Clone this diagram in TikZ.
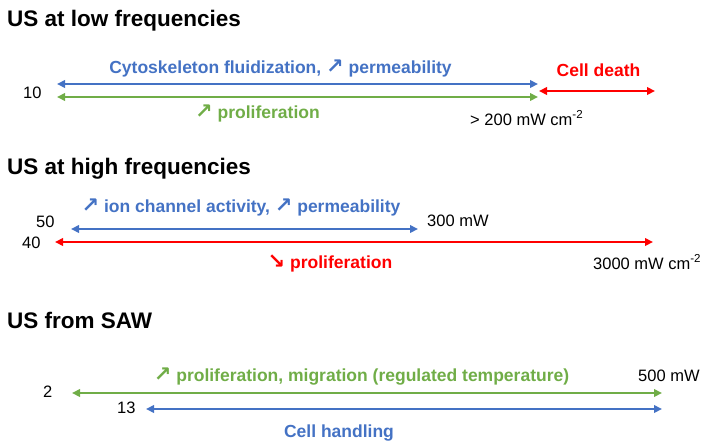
\documentclass[tikz,border=0pt]{standalone}
\usepackage{fontspec}
\setmainfont{Liberation Sans}
\newfontfamily\symf{DejaVu Sans}
\usetikzlibrary{arrows.meta}
\definecolor{cblue}{HTML}{4472C4}
\definecolor{cgreen}{HTML}{70AD47}
\definecolor{cred}{HTML}{FF0000}
\newcommand{\up}{{\symf\fontsize{21}{21}\selectfont ↗}}
\newcommand{\down}{{\symf\fontsize{21}{21}\selectfont ↘}}
\tikzset{
  title/.style={anchor=base west, inner sep=0pt, font=\bfseries\fontsize{22.5}{27}\selectfont},
  lab/.style={anchor=base, inner sep=0pt, font=\bfseries\fontsize{17.5}{21}\selectfont},
  num/.style={anchor=base west, inner sep=0pt, font=\fontsize{16.5}{20}\selectfont},
  rng/.style={line width=2.8pt, {Triangle[length=8pt,width=7.5pt]}-{Triangle[length=8pt,width=7.5pt]}},
}
\begin{document}
\begin{tikzpicture}[x=1pt,y=-1pt]
\useasboundingbox (0,0) rectangle (709,444);
% ---------- Section 1 ----------
\node[title] (t1) at (7,27) {US at low frequencies};
\coordinate (b1L) at (57,84);  \coordinate (b1R) at (538,84);
\coordinate (g1L) at (57,97);  \coordinate (g1R) at (538,97);
\coordinate (r1L) at (539,91); \coordinate (r1R) at (655,91);
\draw[rng, cblue] (b1L) -- (b1R);
\draw[rng, cgreen] (g1L) -- (g1R);
\draw[rng, cred] (r1L) -- (r1R);
\node[lab, text=cblue] (l1b) at (280.5,74) {Cytoskeleton fluidization, \up\ permeability};
\node[lab, text=cgreen] (l1g) at (257.5,118) {\up\ proliferation};
\node[lab, text=cred] (l1r) at (598.5,77) {Cell death};
\node[num] (n10) at (23,98) {10};
\node[num] (n200) at (470,125) {> 200 mW cm\textsuperscript{-2}};
% ---------- Section 2 ----------
\node[title] (t2) at (7,174) {US at high frequencies};
\coordinate (b2L) at (71,229); \coordinate (b2R) at (418,229);
\coordinate (r2L) at (55,242); \coordinate (r2R) at (653,242);
\draw[rng, cblue] (b2L) -- (b2R);
\draw[rng, cred] (r2L) -- (r2R);
\node[lab, text=cblue] (l2b) at (241,212) {\up\ ion channel activity, \up\ permeability};
\node[lab, text=cred] (l2r) at (330,268) {\down\ proliferation};
\node[num] (n50) at (36,227) {50};
\node[num] (n300) at (427,226) {300 mW};
\node[num] (n40) at (22,248) {40};
\node[num] (n3000) at (593,269) {3000 mW cm\textsuperscript{-2}};
% ---------- Section 3 ----------
\node[title] (t3) at (7,328) {US from SAW};
\coordinate (g3L) at (72,393);  \coordinate (g3R) at (662,393);
\coordinate (b3L) at (146,409); \coordinate (b3R) at (662,409);
\draw[rng, cgreen] (g3L) -- (g3R);
\draw[rng, cblue] (b3L) -- (b3R);
\node[lab, text=cgreen] (l3g) at (361.5,381) {\up\ proliferation, migration (regulated temperature)};
\node[lab, text=cblue] (l3b) at (339,437) {Cell handling};
\node[num] (n2) at (43,397) {2};
\node[num] (n13) at (117,413) {13};
\node[num] (n500) at (638,381) {500 mW};
\end{tikzpicture}
\end{document}
